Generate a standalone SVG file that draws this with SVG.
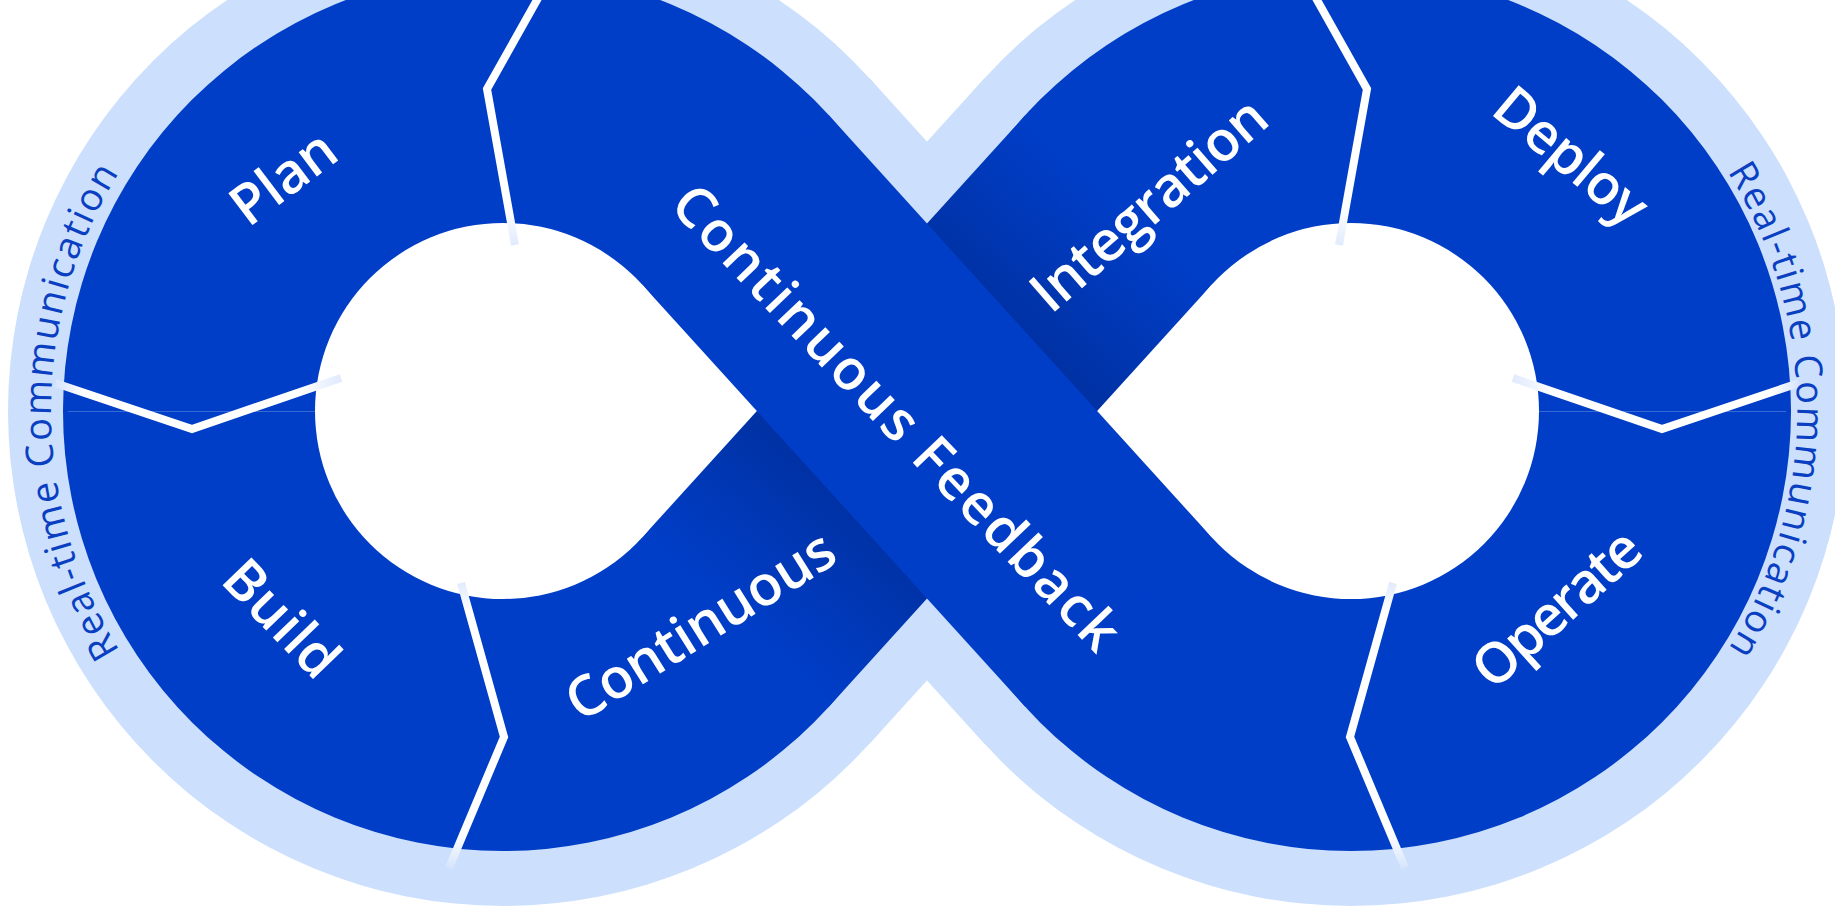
<svg xmlns="http://www.w3.org/2000/svg" width="1835" height="910" viewBox="0 0 1835 910">
  <defs>
    <style>
      .light { fill: #CCE0FD; }
      .dark { fill: #003EC8; }
      .hole { fill: #FFFFFF; }
      .seam { stroke: #FFFFFF; stroke-opacity: 0.22; stroke-width: 1; fill: none; }
      .div { fill: none; stroke-width: 8; stroke-linejoin: miter; stroke-linecap: butt; }
      .lbl { font-family: "Open Sans", "Noto Sans", sans-serif; font-size: 56px; font-weight: 600; fill: #FFFFFF; text-anchor: middle; }
      .ring { font-family: "Open Sans", "Noto Sans", sans-serif; font-size: 38px; fill: #0A3FC2; text-anchor: middle; letter-spacing: 2px; }
    </style>
    <linearGradient id="shadow" gradientUnits="userSpaceOnUse" x1="712" y1="648" x2="1142" y2="174">
      <stop offset="0" stop-color="#003EC8"/>
      <stop offset="0.06" stop-color="#003EC8"/>
      <stop offset="0.30" stop-color="#0032A6"/>
      <stop offset="0.70" stop-color="#0032A6"/>
      <stop offset="0.94" stop-color="#003EC8"/>
      <stop offset="1" stop-color="#003EC8"/>
    </linearGradient>
    <linearGradient id="gTop" x1="0" y1="0" x2="0" y2="1">
      <stop offset="0" stop-color="#FFFFFF"/>
      <stop offset="0.86" stop-color="#FFFFFF"/>
      <stop offset="1" stop-color="#E0EBFD"/>
    </linearGradient>
    <linearGradient id="gBottom" x1="0" y1="0" x2="0" y2="1">
      <stop offset="0" stop-color="#E0EBFD"/>
      <stop offset="0.1" stop-color="#FFFFFF"/>
      <stop offset="0.88" stop-color="#FFFFFF"/>
      <stop offset="1" stop-color="#D5E4FC"/>
    </linearGradient>
    <linearGradient id="gLeftSide" x1="0" y1="0" x2="1" y2="0">
      <stop offset="0" stop-color="#D5E4FC"/>
      <stop offset="0.1" stop-color="#FFFFFF"/>
      <stop offset="0.85" stop-color="#FFFFFF"/>
      <stop offset="1" stop-color="#E0EBFD"/>
    </linearGradient>
    <linearGradient id="gRightSide" x1="0" y1="0" x2="1" y2="0">
      <stop offset="0" stop-color="#E0EBFD"/>
      <stop offset="0.15" stop-color="#FFFFFF"/>
      <stop offset="0.9" stop-color="#FFFFFF"/>
      <stop offset="1" stop-color="#D5E4FC"/>
    </linearGradient>
    <path id="arcLeft" d="M 277 802.4 A 452 452 0 0 1 277 19.6"/>
    <path id="arcRight" d="M 1574 24.75 A 446 446 0 0 1 1574 797.25"/>
  </defs>

  <rect width="1835" height="910" fill="#FFFFFF"/>

  <g id="outer-ring">
    <circle class="light" cx="503" cy="411" r="495"/>
    <circle class="light" cx="1351" cy="411" r="495"/>
    <polygon class="light" points="869.59,78.37 601.51,321.63 984.41,743.63 1252.49,500.37"/>
    <polygon class="light" points="601.51,500.37 869.59,743.63 1252.49,321.63 984.41,78.37"/>
  </g>

  <g id="infinity-band">
    <circle class="dark" cx="503" cy="411" r="440"/>
    <circle class="dark" cx="1351" cy="411" r="440"/>
    <polygon fill="url(#shadow)" points="642.24,537.33 828.86,706.67 1211.76,284.67 1025.14,115.33"/>
    <polygon class="dark" points="828.86,115.33 642.24,284.67 1025.14,706.67 1211.76,537.33"/>
  </g>

  <g id="holes">
    <circle class="hole" cx="503" cy="411" r="188"/>
    <polygon class="hole" points="503,411 642.24,284.67 756.86,411 642.24,537.33"/>
    <circle class="hole" cx="1351" cy="411" r="188"/>
    <polygon class="hole" points="1351,411 1211.76,284.67 1097.14,411 1211.76,537.33"/>
  </g>

  <g id="seams">
    <line class="seam" x1="68" y1="411.5" x2="315" y2="411.5"/>
    <line class="seam" x1="1539" y1="411.5" x2="1786" y2="411.5"/>
  </g>

  <g id="connectors">
    <polyline class="div" stroke="url(#gTop)" points="542.6,-10 487,89 515,245"/>
    <polyline class="div" stroke="url(#gLeftSide)" points="55,383 192,429 341,378"/>
    <polyline class="div" stroke="url(#gBottom)" points="461,583 504,737 449,868"/>
    <polyline class="div" stroke="url(#gTop)" points="1311.4,-10 1367,89 1339,245"/>
    <polyline class="div" stroke="url(#gRightSide)" points="1513,378 1662,429 1799,383"/>
    <polyline class="div" stroke="url(#gBottom)" points="1393,583 1350,737 1405,868"/>
  </g>

  <g id="node-plan">
    <text class="lbl" transform="translate(283,177) rotate(-37)" x="0" y="20" textLength="117" lengthAdjust="spacing">Plan</text>
  </g>
  <g id="node-build">
    <text class="lbl" transform="translate(282,618) rotate(46)" x="0" y="20" textLength="140" lengthAdjust="spacing">Build</text>
  </g>
  <g id="node-continuous-integration">
    <text class="lbl" transform="translate(700,625) rotate(-32)" x="0" y="20" textLength="306" lengthAdjust="spacing">Continuous</text>
    <text class="lbl" transform="translate(1152,208) rotate(-41)" x="0" y="14.5" textLength="293" lengthAdjust="spacing">Integration</text>
  </g>
  <g id="node-continuous-feedback">
    <text class="lbl" transform="translate(897,417) rotate(46.3)" x="0" y="20" textLength="620" lengthAdjust="spacing">Continuous Feedback</text>
  </g>
  <g id="node-deploy">
    <text class="lbl" transform="translate(1568,160) rotate(40)" x="0" y="14.5" textLength="182" lengthAdjust="spacing">Deploy</text>
  </g>
  <g id="node-operate">
    <text class="lbl" transform="translate(1560,612) rotate(-42)" x="0" y="14.5" textLength="206" lengthAdjust="spacing">Operate</text>
  </g>
  <g id="node-realtime-left">
    <text class="ring"><textPath href="#arcLeft" startOffset="50%">Real-time Communication</textPath></text>
  </g>
  <g id="node-realtime-right">
    <text class="ring"><textPath href="#arcRight" startOffset="50%">Real-time Communication</textPath></text>
  </g>
</svg>
